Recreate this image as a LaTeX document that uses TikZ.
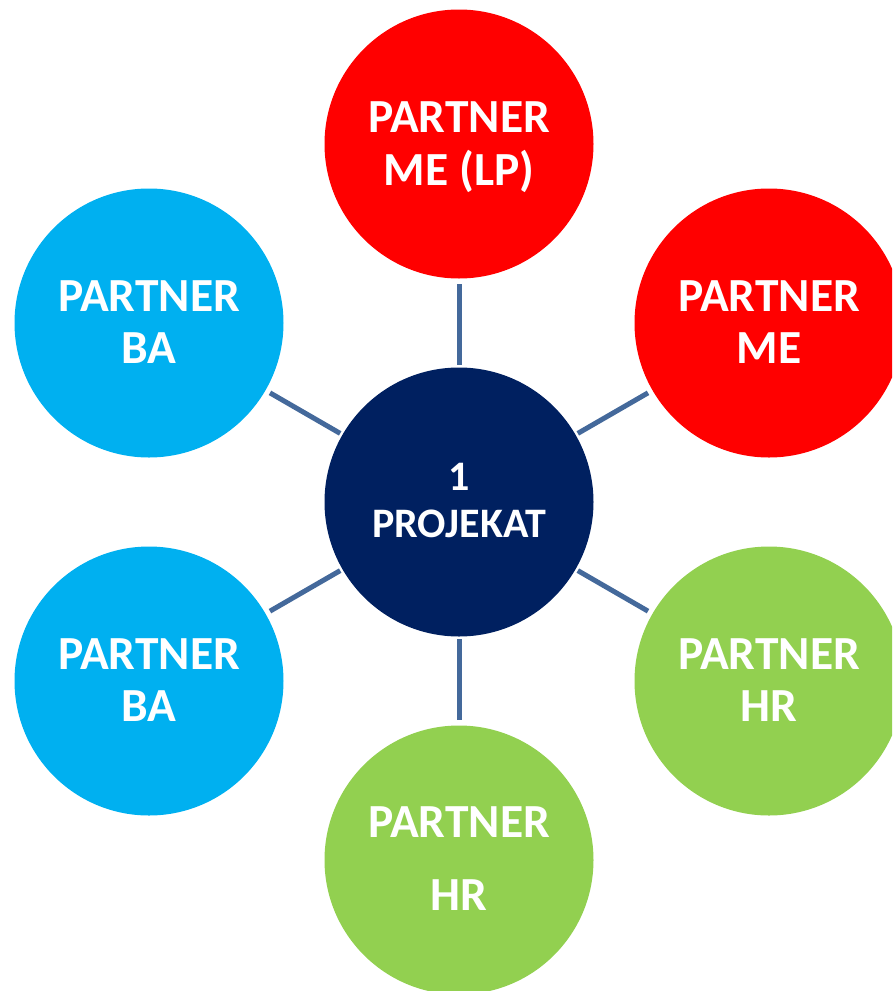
\documentclass[tikz,border=0pt]{standalone}
\usepackage{fontspec}
\setmainfont{Carlito}
\definecolor{pred}{HTML}{FF0000}
\definecolor{pblue}{HTML}{00B0F0}
\definecolor{pgreen}{HTML}{92D050}
\definecolor{pnavy}{HTML}{002060}
\definecolor{plink}{HTML}{44699B}
\tikzset{
  bubble/.style={circle, minimum size=269pt, inner sep=0pt, draw=none},
  lbl/.style={anchor=base, inner sep=0pt, text=white, font=\fontsize{47.5}{53}\selectfont\bfseries},
  clbl/.style={anchor=base, inner sep=0pt, text=white, font=\fontsize{42}{47}\selectfont\bfseries},
  link/.style={draw=plink, line width=5pt, shorten <=2.5pt, shorten >=5pt}
}
\begin{document}
\begin{tikzpicture}[x=1pt, y=-1pt]
\useasboundingbox (0,0) rectangle (892,991);
\clip (0,0) rectangle (892,991);
% circles
\node[bubble, fill=pnavy]  (c)  at (459,502) {};
\node[bubble, fill=pred]   (t)  at (459,144) {};
\node[bubble, fill=pred]   (rt) at (769,323) {};
\node[bubble, fill=pgreen] (rb) at (769,681) {};
\node[bubble, fill=pgreen] (b)  at (459,860) {};
\node[bubble, fill=pblue]  (lb) at (149,681) {};
\node[bubble, fill=pblue]  (lt) at (149,323) {};
% connectors
\draw[link] (c) -- (t);
\draw[link] (c) -- (rt);
\draw[link] (c) -- (rb);
\draw[link] (c) -- (b);
\draw[link] (c) -- (lb);
\draw[link] (c) -- (lt);
% labels
\node[clbl] (c1) at (459,490) {1};
\node[clbl] (c2) at (459,537) {PROJEKAT};
\node[lbl] (t1) at (459,132) {PARTNER};
\node[lbl] (t2) at (459,185) {ME (LP)};
\node[lbl] (rt1) at (769,311) {PARTNER};
\node[lbl] (rt2) at (769,363) {ME};
\node[lbl] (rb1) at (769,669) {PARTNER};
\node[lbl] (rb2) at (769,721) {HR};
\node[lbl] (b1) at (459,837) {PARTNER};
\node[lbl] (b2) at (459,910) {HR};
\node[lbl] (lb1) at (149,669) {PARTNER};
\node[lbl] (lb2) at (149,721) {BA};
\node[lbl] (lt1) at (149,311) {PARTNER};
\node[lbl] (lt2) at (149,363) {BA};
\end{tikzpicture}
\end{document}
